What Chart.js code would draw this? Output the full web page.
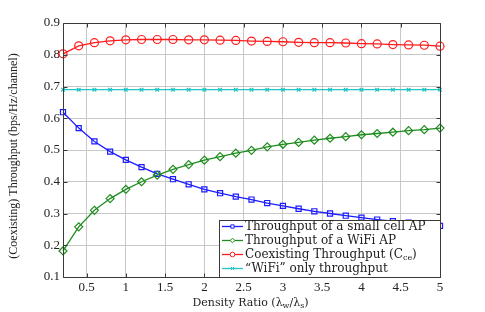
<!DOCTYPE html>
<html><head><meta charset="utf-8">
<script src="https://cdn.jsdelivr.net/npm/chart.js@4/dist/chart.umd.min.js"></script>
<style>html,body{margin:0;padding:0;background:#fff}canvas{display:block}</style>
</head><body>
<canvas id="c" width="485" height="312"></canvas>
<script>
const densityRatio = [0.2,0.4,0.6,0.8,1.0,1.2,1.4,1.6,1.8,2.0,2.2,2.4,2.6,2.8,3.0,3.2,3.4,3.6,3.8,4.0,4.2,4.4,4.6,4.8,5.0];
const smallCellAP = [0.619,0.569,0.527,0.495,0.469,0.446,0.425,0.408,0.392,0.376,0.364,0.353,0.344,0.333,0.324,0.315,0.307,0.300,0.293,0.287,0.281,0.276,0.271,0.266,0.261];
const wifiAP = [0.182,0.258,0.310,0.347,0.376,0.400,0.421,0.439,0.454,0.468,0.479,0.490,0.499,0.510,0.518,0.524,0.531,0.537,0.542,0.548,0.552,0.556,0.561,0.564,0.569];
const coexisting = [0.803,0.828,0.838,0.844,0.847,0.848,0.848,0.848,0.847,0.847,0.846,0.845,0.843,0.842,0.841,0.839,0.838,0.838,0.837,0.835,0.834,0.832,0.831,0.830,0.827];
const wifiOnly = [0.69,0.69,0.69,0.69,0.69,0.69,0.69,0.69,0.69,0.69,0.69,0.69,0.69,0.69,0.69,0.69,0.69,0.69,0.69,0.69,0.69,0.69,0.69,0.69,0.69];
const xTickLabels = ['0.5','1','1.5','2','2.5','3','3.5','4','4.5','5'];
const yTickLabels = ['0.1','0.2','0.3','0.4','0.5','0.6','0.7','0.8','0.9'];
const seriesNames = ['Throughput of a small cell AP','Throughput of a WiFi AP','Coexisting Throughput (C','\u201CWiFi\u201D only throughput'];
const yTitle = '(Coexisting) Throughput (bps/Hz/channel)';

function pts(arr){ return densityRatio.map((x,i)=>({x:x,y:arr[i]})); }

const styles = [
  {color:'#1c1cff', point:'rect', r:3.6},
  {color:'#1e8c1e', point:'rectRot', r:4},
  {color:'#ff1c1c', point:'circle', r:4},
  {color:'#22c4c4', point:'crossRot', r:2.6}
];
const series = [smallCellAP, wifiAP, coexisting, wifiOnly];

const datasets = series.map((s,i)=>({
  label: seriesNames[i],
  data: pts(s),
  borderColor: styles[i].color,
  backgroundColor: 'rgba(0,0,0,0)',
  pointBorderColor: styles[i].color,
  pointBackgroundColor: 'rgba(255,255,255,0)',
  pointStyle: styles[i].point,
  pointRadius: styles[i].r,
  pointBorderWidth: 1.2,
  borderWidth: 1.3,
  tension: 0,
  clip: false
})).reverse();

function drawRich(ctx, parts, x, y, align){
  const base = ctx.font;
  let total = 0;
  const widths = parts.map(p=>{
    ctx.font = p[1] ? p[2] : base;
    const w = ctx.measureText(p[0]).width; total += w; return w;
  });
  let cx = align==='center' ? x - total/2 : x;
  parts.forEach((p,i)=>{
    ctx.font = p[1] ? p[2] : base;
    ctx.fillText(p[0], cx, y + (p[1]?3:0));
    cx += widths[i];
  });
  ctx.font = base;
}

const decor = {
  id:'decor',
  afterDatasetsDraw(chart){
    const {ctx, chartArea:a, scales:{x,y}} = chart;
    const L=Math.round(a.left)+0.5, R=Math.round(a.right)+0.5, T=Math.round(a.top)+0.5, B=Math.round(a.bottom)+0.5;
    ctx.save();
    ctx.strokeStyle='#3a3a3a'; ctx.lineWidth=1;
    ctx.beginPath();
    ctx.rect(L,T,R-L,B-T);
    x.ticks.forEach(t=>{
      const px = Math.round(x.getPixelForValue(t.value))+0.5;
      ctx.moveTo(px,B); ctx.lineTo(px,B-4);
      ctx.moveTo(px,T); ctx.lineTo(px,T+4);
    });
    y.ticks.forEach(t=>{
      const py = Math.round(y.getPixelForValue(t.value))+0.5;
      ctx.moveTo(L,py); ctx.lineTo(L+4,py);
      ctx.moveTo(R,py); ctx.lineTo(R-4,py);
    });
    ctx.stroke();

    // legend box inside plot area (bottom right)
    const bx=219.5, by=220.5, bw=R-bx, bh=B-by;
    ctx.fillStyle='#fff';
    ctx.fillRect(bx,by,bw,bh);
    ctx.strokeStyle='#3a3a3a';
    ctx.strokeRect(bx,by,bw,bh);
    ctx.font='12px "DejaVu Serif"';
    ctx.textBaseline='middle';
    ctx.textAlign='left';
    for(let i=0;i<4;i++){
      const ry = by + 6 + i*14;
      ctx.strokeStyle=styles[i].color; ctx.lineWidth=1.3;
      ctx.beginPath(); ctx.moveTo(222,ry); ctx.lineTo(243,ry); ctx.stroke();
      ctx.lineWidth=1;
      ctx.fillStyle='#ffffff';
      ctx.strokeStyle=styles[i].color;
      Chart.helpers.drawPoint(ctx,{pointStyle:styles[i].point,radius:2.3,borderWidth:1,rotation:0},232.5,ry);
      ctx.fillStyle='#222';
      if(i===2){
        drawRich(ctx,[[seriesNames[2],0],['ce',1,'8px "DejaVu Serif"'],[')',0]],245,ry,'left');
      } else {
        ctx.fillText(seriesNames[i],245,ry);
      }
    }
    ctx.restore();
  },
  afterDraw(chart){
    const {ctx, chartArea:a} = chart;
    ctx.save();
    ctx.fillStyle='#222';
    ctx.textBaseline='middle';
    ctx.font='11px "DejaVu Serif"';
    drawRich(ctx,[['Density Ratio (\u03BB',0],['w',1,'8px "DejaVu Serif"'],['/\u03BB',0],['s',1,'8px "DejaVu Serif"'],[')',0]],(a.left+a.right)/2-1,303,'center');
    ctx.translate(14,156);
    ctx.rotate(-Math.PI/2);
    ctx.textAlign='center';
    ctx.font='12px "Liberation Serif"';
    ctx.fillText(yTitle,0,0);
    ctx.restore();
  }
};

new Chart(document.getElementById('c'),{
  type:'line',
  data:{datasets:datasets},
  plugins:[decor],
  options:{
    responsive:false,
    devicePixelRatio:1,
    animation:false,
    layout:{padding:{top:23,right:45,left:0,bottom:0}},
    plugins:{legend:{display:false},tooltip:{enabled:false}},
    scales:{
      x:{
        type:'linear', min:0.2, max:5,
        afterBuildTicks(s){ s.ticks = xTickLabels.map(v=>({value:parseFloat(v)})); },
        afterFit(s){ s.height = 35; },
        ticks:{ callback:(v,i)=>xTickLabels[i], font:{family:'Liberation Serif',size:13}, color:'#222', padding:3, maxRotation:0, autoSkip:false },
        grid:{ color:'#c8c8c8', borderDash:[1,2], drawTicks:false, lineWidth:1 },
        border:{ display:false }
      },
      y:{
        type:'linear', min:0.1, max:0.9,
        afterBuildTicks(s){ s.ticks = yTickLabels.map(v=>({value:parseFloat(v)})); },
        afterFit(s){ s.width = 63; },
        ticks:{ callback:(v,i)=>yTickLabels[i], font:{family:'Liberation Serif',size:13}, color:'#222', padding:3, autoSkip:false },
        grid:{ color:'#c8c8c8', borderDash:[1,2], drawTicks:false, lineWidth:1 },
        border:{ display:false }
      }
    }
  }
});
</script>
</body></html>
